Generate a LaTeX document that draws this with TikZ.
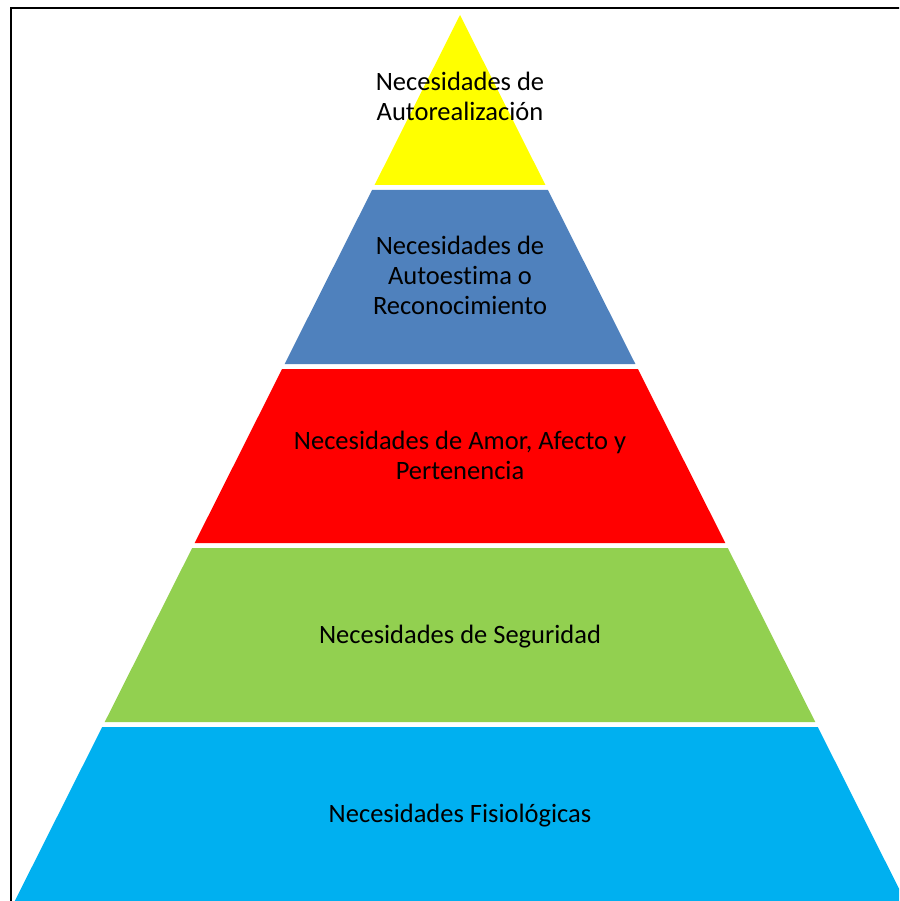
\documentclass[tikz,border=0pt]{standalone}
\usepackage{fontspec}
\setmainfont{Carlito}[Ligatures={TeX,NoCommon}]
\usepackage{tikz}

\definecolor{pyellow}{HTML}{FFFF00}
\definecolor{pblue}{HTML}{4F81BD}
\definecolor{pred}{HTML}{FF0000}
\definecolor{pgreen}{HTML}{92D050}
\definecolor{pcyan}{HTML}{00B0F0}

\begin{document}
\begin{tikzpicture}[x=1pt, y=-1pt,
  every level/.style={align=center, inner sep=0pt, font=\fontsize{26.5}{30}\selectfont}]

\clip (0,0) rectangle (899,901);
\useasboundingbox (0,0) rectangle (899,901);

\draw [line width=2pt] (10.5,8) rectangle (910,915);

\foreach \t/\b/\c in {15/185/pyellow, 190/364/pblue, 369/543/pred, 548/722/pgreen, 727/915/pcyan}
  \fill [\c] ({460-0.5025*(\t-15)},\t) -- ({460+0.5025*(\t-15)},\t)
    -- ({460+0.5025*(\b-15)},\b) -- ({460-0.5025*(\b-15)},\b) -- cycle;

\node [every level] (level-5) at (460,96) {Necesidades de\\Autorealización};
\node [every level] (level-4) at (460,275) {Necesidades de\\Autoestima o\\Reconocimiento};
\node [every level] (level-3) at (460,455) {Necesidades de Amor, Afecto y\\Pertenencia};
\node [every level] (level-2) at (460,637) {Necesidades de Seguridad};
\node [every level] (level-1) at (460,816) {Necesidades Fisiológicas};

\end{tikzpicture}
\end{document}
